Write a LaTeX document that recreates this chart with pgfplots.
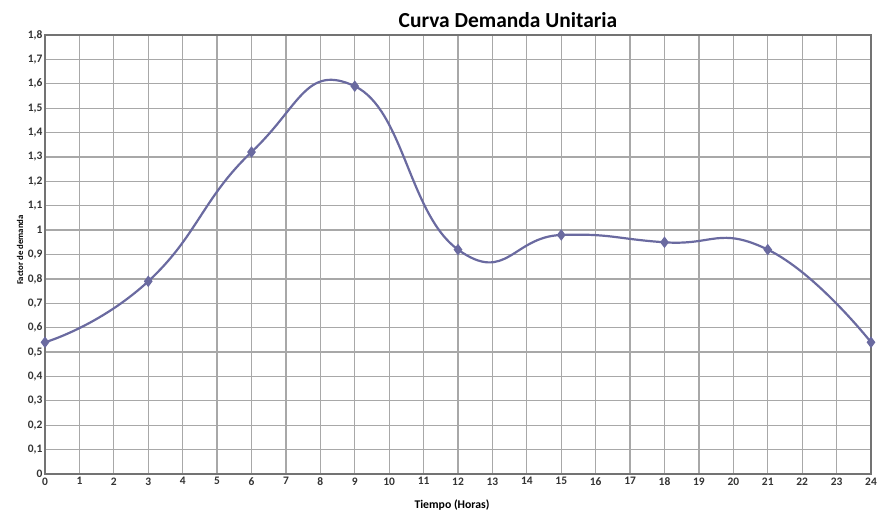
\documentclass[border=0pt]{standalone}
\usepackage{pgfplots}
\pgfplotsset{compat=1.18}
\usepackage{fontspec}
\setmainfont{Carlito}
\definecolor{linec}{HTML}{6A6AA0}
\definecolor{gridc}{HTML}{A8A8A8}
\begin{document}
\begin{tikzpicture}[x=1bp,y=1bp]
\begin{axis}[
  name=ax,
  at={(0,0)}, anchor=south west,
  scale only axis, width=826bp, height=439bp,
  xmin=0, xmax=24, ymin=0, ymax=1.8,
  xtick={0,1,...,24},
  ytick={0,0.1,...,1.8},
  grid=major,
  major grid style={gridc, line width=1.3bp},
  axis line style={draw=gray!90!black, line width=1.3bp},
  tick style={draw=none},
  /pgf/number format/assume math mode=true,
  /pgf/number format/use comma,
  /pgf/number format/fixed,
  /pgf/number format/precision=1,
  yticklabel style={font=\fontsize{11.5}{13}\selectfont\bfseries\color{black!80}, xshift=1bp},
  xticklabel style={font=\fontsize{11.5}{13}\selectfont\bfseries\color{black!80}},
  clip=false,
]
\addplot[linec, line width=2.2bp, smooth, tension=0.85,
  mark=diamond*, mark size=4bp, mark options={fill=linec, draw=linec}]
  coordinates {(0,0.54) (3,0.79) (6,1.32) (9,1.59) (12,0.92) (15,0.98) (18,0.95) (21,0.92) (24,0.54)};
\end{axis}
\pgfresetboundingbox
\path[use as bounding box] (-45,-38) rectangle (834,474);
\node[font=\fontsize{21.5}{24}\selectfont\bfseries] at (463,454) {Curva Demanda Unitaria};
\node[font=\fontsize{8.8}{10}\selectfont\bfseries, rotate=90] at (-25,224) {Factor de demanda};
\node[font=\fontsize{11.8}{13}\selectfont\bfseries] at (407,-31) {Tiempo (Horas)};
\end{tikzpicture}
\end{document}
